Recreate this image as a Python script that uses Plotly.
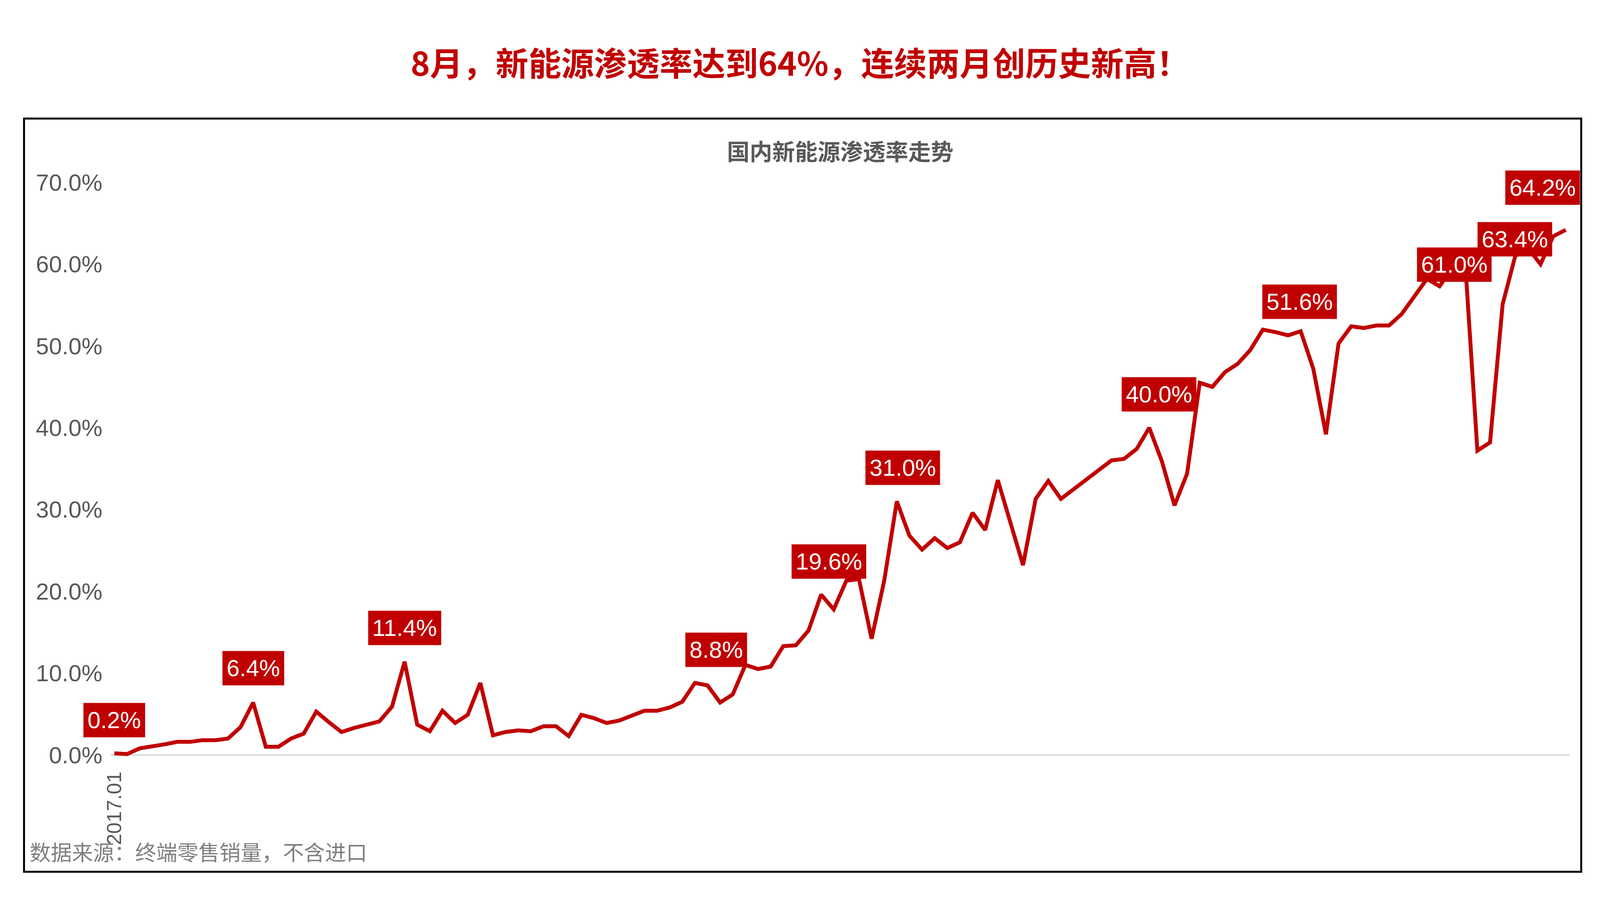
import plotly.graph_objects as go

values = [0.2,0.1,0.8,1.0,1.3,1.6,1.6,1.8,1.8,2.0,3.4,6.4,1.0,1.0,2.0,2.6,5.3,4.0,2.8,3.3,3.7,4.1,5.9,11.4,
          3.7,2.9,5.4,3.9,4.9,8.8,2.4,2.8,3.0,2.9,3.5,3.5,2.3,4.9,4.5,3.9,4.2,4.8,5.4,5.4,5.8,6.5,8.8,8.5,
          6.4,7.4,11.0,10.5,10.8,13.3,13.4,15.2,19.6,17.8,21.3,21.5,14.2,21.3,31.0,26.8,25.1,26.5,25.3,26.0,
          29.6,27.5,33.6,28.4,23.2,31.3,33.5,31.3,32.5,33.7,34.8,36.0,36.2,37.4,40.0,35.9,30.5,34.4,45.5,45.0,
          46.8,47.8,49.5,52.0,51.7,51.3,51.8,47.2,39.2,50.3,52.4,52.2,52.5,52.5,53.9,56.1,58.2,57.3,59.5,61.0,
          37.2,38.2,55.1,61.0,62.0,60.0,63.4,64.2]
x_index = list(range(len(values)))
tick_labels = ["2017.01"]
label_idx = [0, 11, 23, 46, 56, 62, 82, 93, 104, 107, 115]
label_text = ["0.2%","6.4%","11.4%","8.8%","19.6%","31.0%","40.0%","51.6%","61.0%","63.4%","64.2%"]
label_dx = [0, 0, 0, 55, 20, 15, 25, 30, 70, 128, -59]
label_dy = [85, 88, 86, 85, 85, 86, 86, 86, 36, 43, 108]

RED = "#C00000"
fig = go.Figure(go.Scatter(x=x_index, y=values, mode="lines",
                           line=dict(color=RED, width=10), hoverinfo="skip"))

for i, t, dx, dy in zip(label_idx, label_text, label_dx, label_dy):
    fig.add_annotation(x=x_index[i], y=values[i], text=t, showarrow=False,
                       xshift=dx, yshift=dy, bgcolor=RED, borderpad=10,
                       font=dict(color="white", size=60, family="Liberation Sans, Arial"))

fig.add_annotation(xref="paper", yref="paper", x=0.5, y=1.026, yanchor="middle", xanchor="center",
                   text="<b>国内新能源渗透率走势</b>", showarrow=False,
                   font=dict(color="#595959", size=58, family="Noto Sans CJK SC"))
fig.add_annotation(xref="paper", yref="paper", x=-0.056, y=-0.14, xanchor="left", yanchor="middle",
                   text="数据来源：终端零售销量，不含进口", showarrow=False,
                   font=dict(color="#7F7F7F", size=54, family="Noto Sans CJK SC"))
fig.add_shape(type="rect", xref="paper", yref="paper", x0=-0.0593, x1=1.008, y0=-0.174, y1=1.079,
              line=dict(color="black", width=5))

fig.update_layout(
    autosize=True, plot_bgcolor="white", paper_bgcolor="white",
    margin=dict(l=344, r=87, t=417, b=348, autoexpand=False), showlegend=False,
    title=dict(text="<b>8月，新能源渗透率达到64%，连续两月创历史新高！</b>", x=0.5, xanchor="center",
               y=0.932, yanchor="middle", font=dict(color=RED, size=84, family="Noto Sans CJK SC")),
    xaxis=dict(range=[-0.3, len(values) - 0.7], tickvals=[0], ticktext=tick_labels, tickangle=-90,
               showgrid=False, zeroline=False, showline=False, ticks="", automargin=False,
               tickfont=dict(color="#595959", size=52, family="Liberation Sans, Arial")),
    yaxis=dict(range=[-1.5, 72], tickvals=[0, 10, 20, 30, 40, 50, 60, 70],
               ticktext=["0.0%","10.0%","20.0%","30.0%","40.0%","50.0%","60.0%","70.0%"],
               showgrid=False, zeroline=True, zerolinecolor="#D9D9D9", zerolinewidth=4,
               showline=False, ticks="", ticklabelstandoff=20, automargin=False,
               tickfont=dict(color="#595959", size=60, family="Liberation Sans, Arial")),
)
post = """
var gd = document.getElementById('{plot_id}');
var s = window.innerWidth / 5117;
Plotly.relayout(gd, {'margin.l': 344 * s, 'margin.r': 87 * s});
"""
fig.write_html("out.html", post_script=post, default_width="100%", default_height="100vh",
               config={"responsive": True})
